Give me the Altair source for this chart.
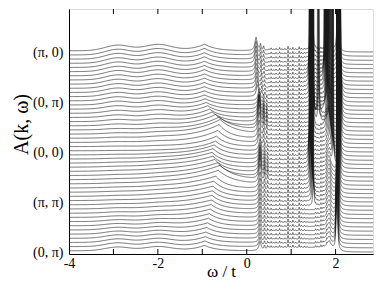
import numpy as np
import pandas as pd
import altair as alt

# ---- axis text -------------------------------------------------------------
K_TICKS = [0, 12, 24, 36, 48]
K_LABELS = ["(0, π)", "(π, π)", "(0, 0)", "(0, π)", "(π, 0)"]
X_LABELS = [-4, -2, 0, 2]
X_MINOR = [-3, -2, -1, 0, 1, 2]

# ---- per-curve spectral features (units = curve spacing)
# curve index 0 = bottom (0,pi) ... 48 = top (pi,0)
BG0 = [0.3] * 49
HUMP = [0.9, 0.9, 0.85, 0.8, 0.7, 0.6, 0.5, 0.4, 0.3, 0.25, 0.2, 0.15, 0.1,
        0.1, 0.1, 0.1, 0.1, 0.1, 0.1, 0.1, 0.1, 0.1, 0.1, 0.1, 0.05,
        0.1, 0.15, 0.2, 0.25, 0.3, 0.4, 0.5, 0.6, 0.7, 0.8, 0.9, 0.95,
        1.0, 1.05, 1.1, 1.15, 1.2, 1.25, 1.25, 1.3, 1.3, 1.35, 1.35, 1.35]
P1_POS = [-0.95, -0.94, -0.93, -0.92, -0.9, -0.88, -0.86, -0.84, -0.82, -0.8, -0.79, -0.78, -0.77,
          -0.76, -0.74, -0.7, -0.64, -0.6, -0.66, -0.72, -0.76, -0.78, -0.76, -0.73, -0.7,
          -0.68, -0.65, -0.62, -0.6, -0.62, -0.7, -0.78, -0.84, -0.88, -0.91, -0.93, -0.95,
          -0.95, -0.95, -0.95, -0.95, -0.95, -0.95, -0.95, -0.95, -0.95, -0.95, -0.95, -0.95]
P1_H = [1.3, 1.35, 1.4, 1.5, 1.6, 1.7, 1.8, 1.9, 2.0, 2.1, 2.2, 2.3, 2.4,
        2.5, 2.7, 2.9, 3.3, 3.5, 3.1, 2.9, 2.7, 2.6, 2.5, 2.4, 2.3,
        2.5, 2.9, 3.3, 3.5, 3.1, 2.7, 2.3, 2.0, 1.8, 1.6, 1.5, 1.4,
        1.4, 1.4, 1.4, 1.45, 1.45, 1.5, 1.5, 1.5, 1.55, 1.55, 1.6, 1.6]
P1_WL = [0.3, 0.32, 0.35, 0.4, 0.45, 0.5, 0.55, 0.6, 0.65, 0.7, 0.75, 0.8, 0.8,
         0.85, 0.85, 0.85, 0.85, 0.85, 0.85, 0.85, 0.85, 0.8, 0.7, 0.6, 0.5,
         0.5, 0.55, 0.6, 0.6, 0.55, 0.5, 0.45, 0.4, 0.38, 0.35, 0.32, 0.3,
         0.3, 0.3, 0.3, 0.3, 0.3, 0.3, 0.3, 0.3, 0.3, 0.3, 0.3, 0.3]
P1_WR = [0.25] * 16 + [0.35, 0.35] + [0.25] * 10 + [0.35, 0.35] + [0.25] * 19
QP_POS = [0.3] * 25 + [0.28] * 12 + [0.24, 0.24, 0.23, 0.23, 0.23, 0.22, 0.22, 0.22, 0.21, 0.21, 0.21, 0.21]
QP_H = [2.2, 2.2, 2.3, 2.3, 2.4, 2.4, 2.5, 2.5, 2.6, 2.6, 2.7, 2.7, 2.8,
        3.0, 3.3, 3.8, 4.6, 5.0, 5.0, 4.6, 4.2, 3.8, 3.3, 2.9, 2.8,
        3.0, 3.4, 4.2, 5.0, 5.8, 6.2, 5.8, 5.2, 4.4, 3.6, 3.1, 2.8,
        2.8, 2.8, 2.8, 2.8, 2.9, 2.9, 3.0, 3.0, 3.1, 3.1, 3.2, 3.2]
COMB_BG = [0.8] * 13 + [0.8] * 12 + [0.8, 0.75, 0.7, 0.7, 0.65, 0.6, 0.55, 0.5, 0.5, 0.45, 0.4, 0.4] + [0.35, 0.35, 0.3, 0.3, 0.3, 0.3, 0.25, 0.25, 0.25, 0.25, 0.25, 0.25]
COMB_A = [0.55] * 49
SPIKE_POS = [0.50, 0.55, 0.61, 0.66, 0.74, 0.79, 0.86, 0.93, 0.98, 1.04, 1.10, 1.18, 1.23, 1.30, 1.36,
             1.55, 1.60, 1.67, 1.72, 1.80, 1.87]
SPIKE_H = [0.4, 0.8, 0.3, 0.6, 0.9, 0.4, 0.5, 1.6, 0.5, 1.0, 0.4, 1.2, 0.6, 0.5, 0.3,
           0.7, 0.5, 0.9, 0.6, 0.8, 0.5]
BROAD_POS = [1.85] * 49
BROAD_H = [1.5, 1.6, 1.7, 1.8, 1.9, 2.0, 2.1, 2.2, 2.3, 2.4, 2.5, 2.6, 2.7,
           2.8, 2.9, 3.0, 3.0, 3.0, 3.0, 3.0, 2.8, 2.6, 2.4, 2.2, 2.0,
           2.0, 2.2, 2.4, 2.6, 2.8, 3.0, 2.6, 2.2, 1.8, 1.4, 1.0, 0.8,
           0.7, 0.6, 0.6, 0.5, 0.5, 0.5, 0.4, 0.4, 0.4, 0.3, 0.3, 0.3]
T1_W = [0.0] * 10 + [0.4, 0.8] + [1.0] * 37
T1_POS = [1.45] * 10 + [1.5, 1.49, 1.48, 1.47, 1.46, 1.45, 1.44, 1.44, 1.43, 1.43, 1.42, 1.42, 1.42, 1.43, 1.44,
                        1.45, 1.46, 1.47, 1.48, 1.49, 1.5, 1.5, 1.49, 1.48, 1.47, 1.46, 1.45,
                        1.44, 1.43, 1.43, 1.42, 1.42, 1.42, 1.43, 1.44, 1.45, 1.46, 1.47, 1.48]
T2_W = [0.0] * 20 + [0.6, 0.8] + [1.0] * 27
T2_POS = [1.9] * 20 + [1.95, 1.94, 1.93, 1.92, 1.9, 1.88, 1.86, 1.84, 1.82, 1.8, 1.62, 1.6,
                       1.62, 1.78, 1.8, 1.82, 1.84, 1.8, 1.78, 1.77, 1.76, 1.75, 1.76, 1.77,
                       1.78, 1.8, 1.82, 1.84, 1.86]
T3_W = [1.5] * 49
T3_POS = [2.03, 2.03, 2.03, 2.03, 2.035, 2.035, 2.04, 2.04, 2.04, 2.045, 2.045, 2.05, 2.05,
          2.05, 2.055, 2.06, 2.06, 2.065, 2.07, 2.07, 2.075, 2.08, 2.08, 2.08, 2.08,
          2.08, 2.085, 2.09, 2.09, 2.095, 2.1, 2.1, 2.1, 2.1, 2.1, 2.1, 2.1,
          2.1, 2.1, 2.09, 2.09, 2.08, 2.08, 2.07, 2.07, 2.06, 2.06, 2.05, 2.05]

# ---- sampling grid in omega -----------------------------------------------
OMEGA = np.concatenate([np.arange(-4.0, -0.2, 0.02), np.arange(-0.2, 1.3, 0.004),
                        np.arange(1.3, 2.25, 0.002), np.arange(2.25, 3.0001, 0.01)])


def lor(x, x0, g):
    return g * g / ((x - x0) ** 2 + g * g)


def spectrum(i, w):
    s = BG0[i] / (1 + np.exp((w - 2.1) / 0.05))
    s = s + HUMP[i] * (np.exp(-(w + 2.9) ** 2 / (2 * 0.28 ** 2)) + 1.1 * np.exp(-(w + 2.0) ** 2 / (2 * 0.3 ** 2)))
    d = w - P1_POS[i]
    left = np.exp(np.minimum(d, 0) / P1_WL[i])
    right = np.exp(-np.maximum(d, 0) / P1_WR[i])
    s = s + P1_H[i] * np.where(d < 0, left, right)
    q = QP_POS[i]
    s = s + QP_H[i] * (lor(w, q, 0.03) + 0.45 * lor(w, q + 0.1, 0.015) + 0.3 * lor(w, q + 0.17, 0.012))
    s = s + COMB_BG[i] / (1 + np.exp(-(w - 0.45) / 0.04)) / (1 + np.exp((w - 1.95) / 0.04))
    for p, h in zip(SPIKE_POS, SPIKE_H):
        s = s + COMB_A[i] * h * lor(w, p, 0.006)
    s = s + BROAD_H[i] * lor(w, BROAD_POS[i], 0.05)
    g = 0.005
    amp = 0.0025 / (g * g)
    for wt, p in ((T1_W[i], T1_POS[i]), (T2_W[i], T2_POS[i]), (T3_W[i], T3_POS[i])):
        if wt > 0:
            s = s + wt * amp * lor(w, p, g)
    return i + s


rows = []
for i in range(49):
    vals = spectrum(i, OMEGA)
    rows.append(pd.DataFrame({"w": np.round(OMEGA, 4), "y": np.round(vals, 3), "c": i}))
df = pd.concat(rows, ignore_index=True)

# layout: the svg (366 x 272) plus the page margins must fit the 382 x 291 window
W, H = 304, 245
X_MAX = -4 + W / 44.43          # keep the reference's 44.43 px per unit of omega
UNIT = 200 / 48                 # px between neighbouring curves
D0 = -2 / UNIT
XS = alt.Scale(domain=[-4, X_MAX], nice=False, zero=False)
YS = alt.Scale(domain=[D0, D0 + H / UNIT], nice=False, zero=False)
FONT = "Liberation Serif"

ylabel_expr = ("datum.value == 0 ? '(0, π)' : datum.value == 12 ? '(π, π)' : "
               "datum.value == 24 ? '(0, 0)' : datum.value == 36 ? '(0, π)' : '(π, 0)'")

lines = alt.Chart(df).transform_filter(alt.datum.w <= X_MAX + 0.02).mark_line(
    color="#1a1a1a", strokeWidth=0.6, clip=True).encode(
    x=alt.X("w:Q", scale=XS, title="ω / t",
            axis=alt.Axis(values=X_LABELS, ticks=False, grid=False, labelExpr="'' + datum.value",
                          labelFlush=False, labelFont=FONT, labelFontSize=14, labelColor="black",
                          labelPadding=2, titleFont=FONT, titleFontSize=17, titleFontWeight="normal",
                          titleColor="black", titleBaseline="alphabetic", titleY=22,
                          domainColor="black")),
    y=alt.Y("y:Q", scale=YS, title="A(k, ω)",
            axis=alt.Axis(values=K_TICKS, ticks=False, grid=False, labelExpr=ylabel_expr,
                          labelFont=FONT, labelFontSize=14, labelColor="black", labelPadding=6,
                          titleFont=FONT, titleFontSize=20, titleFontWeight="normal",
                          titleColor="black", titleX=-38, titleY=115, domainColor="black")),
    detail="c:N",
)

ticks_df = pd.DataFrame({"v": X_MINOR})
top_ticks = alt.Chart(ticks_df).mark_rule(color="black", strokeWidth=1).encode(
    x=alt.X("v:Q", scale=XS), y=alt.value(0), y2=alt.value(5))
bot_ticks = alt.Chart(ticks_df).mark_rule(color="black", strokeWidth=1).encode(
    x=alt.X("v:Q", scale=XS), y=alt.value(H), y2=alt.value(H - 5))

chart = alt.layer(lines, top_ticks, bot_ticks).properties(
    width=W, height=H,
    autosize=alt.AutoSizeParams(type="none"),
    padding={"left": 61, "top": 1, "right": 1, "bottom": 26},
).configure_view(stroke="black", strokeWidth=1).configure(background="white")

chart.save("out.html", embed_options={"renderer": "svg", "actions": False})
